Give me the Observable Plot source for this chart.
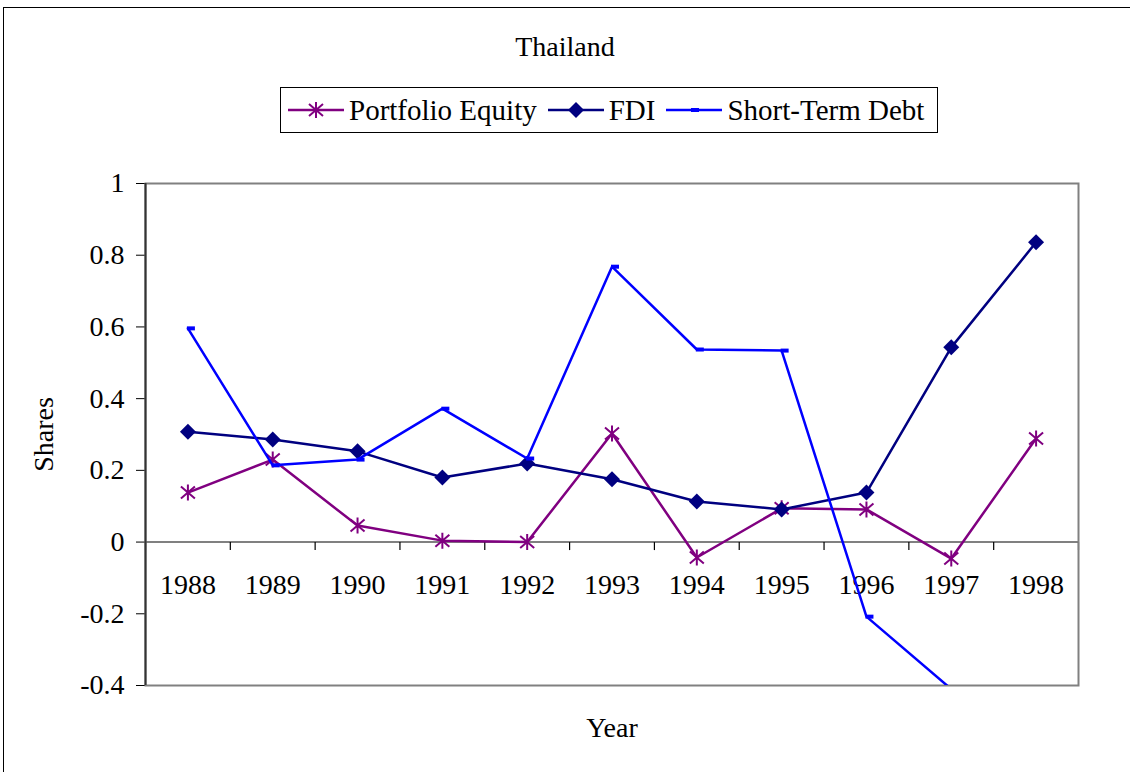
<!DOCTYPE html>
<html>
<head>
<meta charset="utf-8">
<script src="https://cdn.jsdelivr.net/npm/d3@7"></script>
<script src="https://cdn.jsdelivr.net/npm/@observablehq/plot@0.6"></script>
<style>
  html, body { margin: 0; padding: 0; background: #fff; overflow: hidden; }
  body { width: 1130px; height: 772px; position: relative; font-family: "Liberation Serif", "Times New Roman", serif; }
  #border { position: absolute; left: 3px; top: 7px; width: 1200px; height: 900px; border: 1.5px solid #000; box-sizing: border-box; }
  #title { position: absolute; left: 0; width: 1130px; top: 31px; text-align: center; font-size: 28px; line-height: 32px; color: #000; font-family: "Liberation Serif", serif; }
  #legend { position: absolute; left: 280px; top: 87px; width: 658px; height: 46px; border: 1px solid #000; box-sizing: border-box; display: flex; align-items: center; justify-content: flex-start; padding-left: 6px; font-size: 29px; font-family: "Liberation Serif", serif; white-space: nowrap; }
  #legend .item { display: flex; align-items: center; margin-right: 10px; }
  #legend svg { margin-right: 4px; }
  #chart { position: absolute; left: 0; top: 140px; }
</style>
</head>
<body>
<div id="border"></div>
<div id="title">Thailand</div>
<div id="legend"></div>
<div id="chart"></div>
<script>
// ---- data ----
const years = [1988, 1989, 1990, 1991, 1992, 1993, 1994, 1995, 1996, 1997, 1998];
const portfolioEquity = [0.138, 0.23, 0.046, 0.004, 0.0, 0.303, -0.043, 0.094, 0.091, -0.046, 0.289];
const fdi = [0.308, 0.286, 0.253, 0.18, 0.219, 0.175, 0.113, 0.091, 0.138, 0.543, 0.836];
const shortTermDebt = [0.596, 0.214, 0.23, 0.372, 0.233, 0.768, 0.537, 0.534, -0.208, -0.41, -1.2];
const yTicks = [-0.4, -0.2, 0, 0.2, 0.4, 0.6, 0.8, 1];
const seriesNames = ["Portfolio Equity", "FDI", "Short-Term Debt"];
const seriesColors = ["#800080", "#000080", "#0000FF"];

const FONT = "Liberation Serif, Times New Roman, serif";

// ---- symbols ----
const diamondSym = { draw(ctx) { const s = 8; ctx.moveTo(0, -s); ctx.lineTo(s, 0); ctx.lineTo(0, s); ctx.lineTo(-s, 0); ctx.closePath(); } };
const dashSym = { draw(ctx) { ctx.rect(-1, -2, 8, 4); } };
const starSym = { draw(ctx) {
  ctx.moveTo(0, -8); ctx.lineTo(0, 8);
  ctx.moveTo(-7, -6); ctx.lineTo(7, 6);
  ctx.moveTo(-7, 6); ctx.lineTo(7, -6);
} };
const tickSym = { draw(ctx) { ctx.moveTo(0, 0); ctx.lineTo(0, 8); } };

const pe = years.map((y, i) => ({ year: y, value: portfolioEquity[i] }));
const fd = years.map((y, i) => ({ year: y, value: fdi[i] }));
const sd = years.map((y, i) => ({ year: y, value: shortTermDebt[i] }));
const boundaries = years.map(y => y - 0.5).concat([years[years.length - 1] + 0.5]);

const plot = Plot.plot({
  width: 1130,
  height: 632,
  marginLeft: 145,
  marginRight: 52,
  marginTop: 43,
  marginBottom: 87,
  style: { fontFamily: FONT, background: "transparent", color: "#000" },
  x: { domain: [boundaries[0], boundaries[boundaries.length - 1]], axis: null },
  y: { domain: [-0.4, 1] },
  marks: [
    Plot.ruleY([0], { stroke: "#808080", strokeWidth: 2 }),
    Plot.dot(boundaries, { x: d => d, y: () => 0, symbol: tickSym, stroke: "#000", strokeWidth: 1.2 }),
    Plot.text(years, { x: d => d, y: () => 0, text: d => String(d), dy: 43, fontSize: 28, fontFamily: FONT, fill: "#000" }),
    Plot.axisY({ ticks: yTicks, tickSize: 9, tickPadding: 12, tickFormat: d => String(+d.toFixed(1)), fontSize: 28, fontFamily: FONT, label: "Shares", labelAnchor: "center", labelArrow: "none", labelOffset: 112, color: "#000" }),
    Plot.frame({ stroke: "#808080", strokeWidth: 2 }),
    Plot.ruleX([boundaries[0]], { stroke: "#333", strokeWidth: 2 }),
    Plot.line(pe, { x: "year", y: "value", stroke: seriesColors[0], strokeWidth: 2.5 }),
    Plot.dot(pe, { x: "year", y: "value", symbol: starSym, stroke: seriesColors[0], strokeWidth: 2 }),
    Plot.line(fd, { x: "year", y: "value", stroke: seriesColors[1], strokeWidth: 2.5 }),
    Plot.dot(fd, { x: "year", y: "value", symbol: diamondSym, fill: seriesColors[1], stroke: "none" }),
    Plot.line(sd, { x: "year", y: "value", stroke: seriesColors[2], strokeWidth: 2.5, clip: true }),
    Plot.dot(sd, { x: "year", y: "value", symbol: dashSym, fill: seriesColors[2], stroke: "none", clip: true }),
    Plot.text(["Year"], { frameAnchor: "bottom", dy: 51, text: d => d, fontSize: 28, fontFamily: FONT, fill: "#000" })
  ]
});
document.getElementById("chart").appendChild(plot);

// ---- legend ----
const legend = d3.select("#legend");
const syms = [starSym, diamondSym, dashSym];
seriesNames.forEach((name, i) => {
  const item = legend.append("div").attr("class", "item");
  const svg = item.append("svg").attr("width", 58).attr("height", 20);
  svg.append("line").attr("x1", 1).attr("x2", 57).attr("y1", 10).attr("y2", 10)
    .attr("stroke", seriesColors[i]).attr("stroke-width", 2.5);
  const p = d3.path();
  syms[i].draw(p);
  const sp = svg.append("path").attr("d", p.toString()).attr("transform", `translate(${i === 2 ? 27 : 29},10)`);
  if (i === 0) sp.attr("fill", "none").attr("stroke", seriesColors[i]).attr("stroke-width", 2);
  else sp.attr("fill", seriesColors[i]);
  item.append("span").text(name);
});
</script>
</body>
</html>
